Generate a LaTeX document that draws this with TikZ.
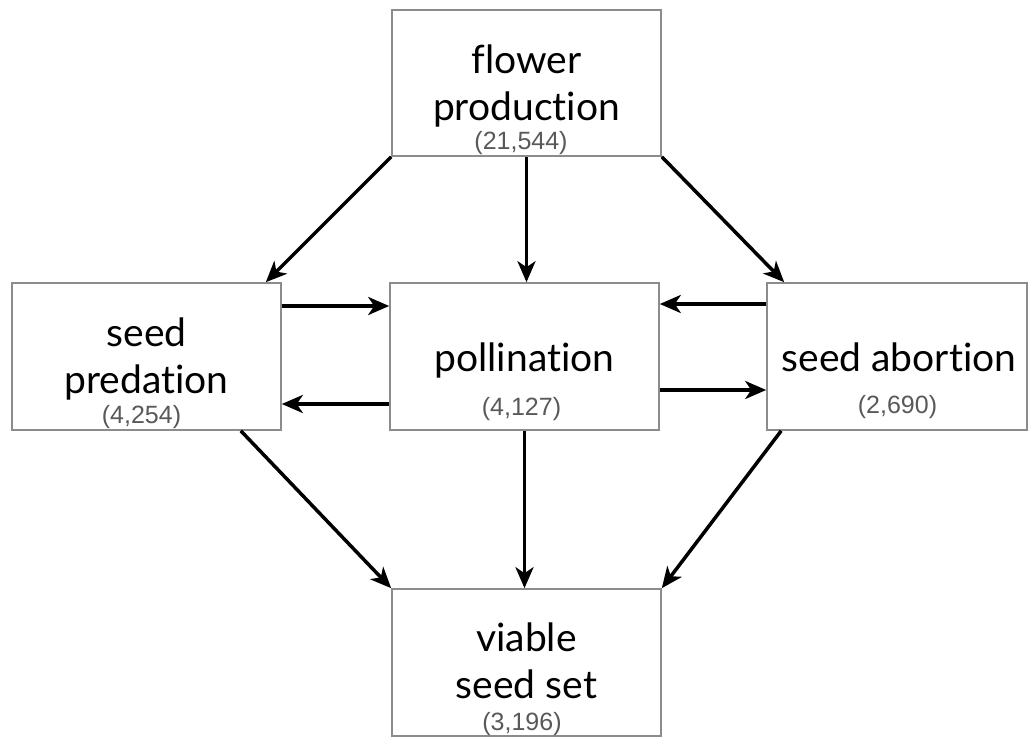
\documentclass[tikz,border=0pt]{standalone}
\usepackage{fontspec}
\setmainfont{Lato}[Ligatures=NoCommon]
\newfontfamily\numfont{Liberation Sans}
\usetikzlibrary{arrows.meta,calc}
\definecolor{BoxClr}{gray}{0.55}
\definecolor{NumClr}{gray}{0.35}

\begin{document}
\begin{tikzpicture}[x=1pt,y=-1pt,
  stage/.style={draw=BoxClr,line width=1.6pt,fill=white,inner sep=0pt},
  word/.style={align=center,font=\fontsize{39}{47}\selectfont,inner sep=0pt},
  count/.style={anchor=base,font=\numfont\fontsize{25}{28}\selectfont,text=NumClr,inner sep=0pt},
  flow/.style={line width=3.5pt,-{Stealth[length=21pt,width=18pt,inset=6pt]}}]
\useasboundingbox (0,0) rectangle (1029,737);

\node[stage,minimum width=269pt,minimum height=146pt] (F) at (526.5,83) {};
\node[stage,minimum width=269pt,minimum height=147pt] (SP) at (146.5,356.5) {};
\node[stage,minimum width=269pt,minimum height=147pt] (P) at (524.5,356.5) {};
\node[stage,minimum width=260pt,minimum height=147pt] (SA) at (897,356.5) {};
\node[stage,minimum width=269pt,minimum height=147pt] (V) at (526.5,662.5) {};

\node[word] (Ft) at (526.5,86) {flower\\production};
\node[word] (SPt) at (146.5,358.5) {seed\\predation};
\node[word] (Pt) at (524.5,360.5) {pollination};
\node[word] (SAt) at (899,357) {seed abortion};
\node[word] (Vt) at (526.5,661) {viable\\seed set};

\node[count] (Fn) at (521,149) {(21,544)};
\node[count] (SPn) at (141.5,423) {(4,254)};
\node[count] (Pn) at (521.5,415) {(4,127)};
\node[count] (SAn) at (897.5,413) {(2,690)};
\node[count] (Vn) at (522,730) {(3,196)};

\draw[flow] (F.south west) -- ([xshift=-16pt]SP.north east);
\draw[flow] (F.south) -- (F.south |- P.north);
\draw[flow] (F.south east) -- ([xshift=18pt]SA.north west);

\draw[flow] ([yshift=50.5pt]SP.east) -- ([yshift=50.5pt]P.west);
\draw[flow] ([yshift=-47.5pt]P.west) -- ([yshift=-47.5pt]SP.east);
\draw[flow] ([yshift=52.5pt]SA.west) -- ([yshift=52.5pt]P.east);
\draw[flow] ([yshift=-33.5pt]P.east) -- ([yshift=-33.5pt]SA.west);

\draw[flow] ([xshift=-41pt]SP.south east) -- (V.north west);
\draw[flow] (P.south) -- (P.south |- V.north);
\draw[flow] ([xshift=15pt]SA.south west) -- (V.north east);

\end{tikzpicture}
\end{document}
